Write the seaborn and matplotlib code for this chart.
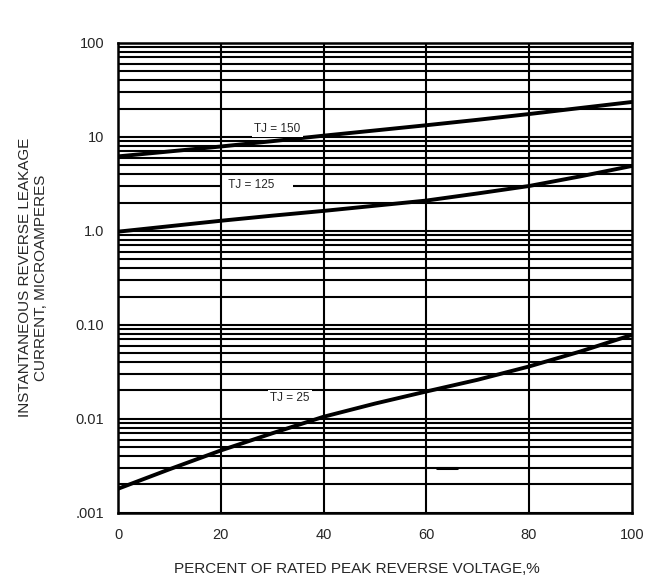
import numpy as np
import pandas as pd
import seaborn as sns
import matplotlib.pyplot as plt
from matplotlib.ticker import FixedLocator, FixedFormatter, NullLocator

# values
pct = [0, 10, 20, 30, 40, 50, 60, 70, 80, 90, 100]
tj150 = [6.2, 7.0, 7.9, 9.0, 10.3, 11.7, 13.3, 15.2, 17.5, 20.3, 23.5]
tj125 = [0.98, 1.12, 1.28, 1.45, 1.63, 1.85, 2.1, 2.5, 3.0, 3.8, 4.9]
tj25 = [0.0018, 0.0029, 0.0046, 0.0070, 0.0105, 0.0145, 0.0195, 0.026, 0.036, 0.052, 0.078]

y_ticks = [0.001, 0.01, 0.1, 1, 10, 100]
y_labels = [".001", "0.01", "0.10", "1.0", "10", "100"]
x_ticks = [0, 20, 40, 60, 80, 100]

sns.set_style("white")
plt.rcParams["font.family"] = ["Liberation Sans", "DejaVu Sans"]

df = pd.DataFrame({"pct": pct * 3,
                   "current": tj150 + tj125 + tj25,
                   "curve": ["150"] * 11 + ["125"] * 11 + ["25"] * 11})

fig = plt.figure(figsize=(6.56, 5.8), dpi=100)
ax = fig.add_axes([0.180, 0.116, 0.783, 0.810])

# grid: every minor decade step and the vertical divisions
for dec in [0.001, 0.01, 0.1, 1, 10]:
    for m in range(1, 10):
        ax.axhline(dec * m, color="black", lw=1.5, zorder=1)
for xv in [20, 40, 60, 80]:
    ax.axvline(xv, color="black", lw=1.5, zorder=4.5)

sns.lineplot(data=df, x="pct", y="current", units="curve", estimator=None,
             color="black", lw=2.8, ax=ax, zorder=3)

# small stray segment in the original
ax.plot([62, 66], [0.003, 0.003], color="black", lw=2.2, zorder=2)

ax.set_yscale("log")
ax.set_xlim(0, 100)
ax.set_ylim(0.001, 100)
ax.yaxis.set_major_locator(FixedLocator(y_ticks))
ax.yaxis.set_major_formatter(FixedFormatter(y_labels))
ax.yaxis.set_minor_locator(NullLocator())
ax.set_xticks(x_ticks)
ax.tick_params(length=0, labelsize=10.5, pad=10)
ax.tick_params(axis="x", pad=11)

for s in ax.spines.values():
    s.set_color("black")
    s.set_linewidth(1.8)

ax.set_xlabel("PERCENT OF RATED PEAK REVERSE VOLTAGE,%", fontsize=11, labelpad=16)
ax.xaxis.set_label_coords(0.465, -0.105)
ax.set_ylabel("INSTANTANEOUS REVERSE LEAKAGE\nCURRENT, MICROAMPERES", fontsize=11, labelpad=20)

box = dict(facecolor="white", edgecolor="none", pad=1.5)
ax.text(31, 12.2, "TJ = 150", fontsize=8.5, ha="center", va="center", bbox=box, zorder=4)
ax.text(20.3, 3.08, "  TJ = 125     ", fontsize=8.5, ha="left", va="center", bbox=box, zorder=4)
ax.text(33.5, 0.0167, "TJ = 25", fontsize=8.5, ha="center", va="center", bbox=box, zorder=4)

fig.savefig("out.png", dpi=100)
